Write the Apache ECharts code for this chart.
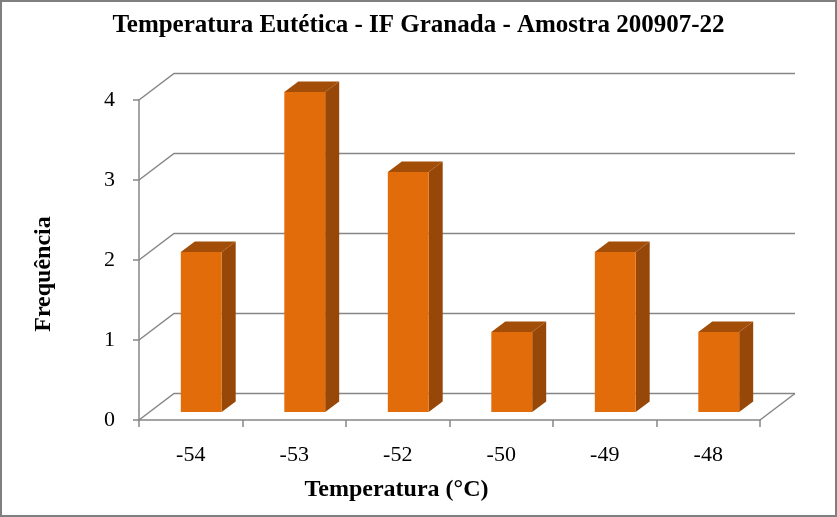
<!DOCTYPE html>
<html>
<head>
<meta charset="utf-8">
<script src="https://cdn.jsdelivr.net/npm/echarts@6/dist/echarts.min.js"></script>
<style>
html,body{margin:0;padding:0;background:#fff;}
#chart{width:837px;height:517px;}
</style>
</head>
<body>
<div id="chart"></div>
<script>
const categories = ['-54', '-53', '-52', '-50', '-49', '-48'];
const frequencies = [2, 4, 3, 1, 2, 1];
const yTicks = [0, 1, 2, 3, 4];

const titleText = 'Temperatura Eutética - IF Granada - Amostra 200907-22';
const xName = 'Temperatura (°C)';
const yName = 'Frequência';

const SERIF = '"Times New Roman", "Liberation Serif", "DejaVu Serif", serif';
const DX = 35, DY = -26.5;      // depth offset of back wall
const F0 = 0.3, F1 = 0.7;       // bar depth range (fraction)
const GRID = '#868686';

const chart = echarts.init(document.getElementById('chart'), null, {renderer: 'canvas'});

const option = {
  backgroundColor: '#ffffff',
  animation: false,
  title: {
    text: titleText,
    left: 'center',
    top: 8,
    textStyle: {fontFamily: SERIF, fontWeight: 'bold', fontSize: 25, color: '#000'}
  },
  graphic: [{
    type: 'rect',
    shape: {x: 1, y: 1, width: 835, height: 515},
    style: {fill: 'none', stroke: '#7f7f7f', lineWidth: 2},
    silent: true, z: 100
  }],
  grid: {left: 139, right: 77, top: 100, bottom: 97, containLabel: false},
  xAxis: {
    type: 'category',
    data: categories,
    boundaryGap: true,
    name: xName,
    nameLocation: 'middle',
    nameGap: 58,
    nameTextStyle: {fontFamily: SERIF, fontWeight: 'bold', fontSize: 24, color: '#000', padding: [0, 106, 0, 0]},
    axisLine: {show: true, lineStyle: {color: GRID, width: 1.5}},
    axisTick: {show: true, length: 7, lineStyle: {color: GRID, width: 1.5}},
    axisLabel: {fontFamily: SERIF, fontSize: 22, color: '#000', margin: 24},
    splitLine: {show: false}
  },
  yAxis: {
    type: 'value',
    min: 0, max: 4, interval: 1,
    name: yName,
    nameLocation: 'middle',
    nameGap: 83,
    nameRotate: 90,
    nameTextStyle: {fontFamily: SERIF, fontWeight: 'bold', fontSize: 24, color: '#000', padding: [0, 28, 0, 0]},
    axisLine: {show: true, lineStyle: {color: GRID, width: 1.5}},
    axisTick: {show: true, length: 6, lineStyle: {color: GRID, width: 1.5}},
    axisLabel: {fontFamily: SERIF, fontSize: 22, color: '#000', margin: 24},
    splitLine: {show: false}
  },
  series: [
    {
      type: 'custom',
      name: 'wall',
      z: 1,
      silent: true,
      data: yTicks.map(v => [0, v]),
      renderItem: function (params, api) {
        const cs = params.coordSys;
        const v = api.value(1);
        const y = api.coord([0, v])[1];
        const x0 = cs.x, x1 = cs.x + cs.width;
        const pts = [[x0, y], [x0 + DX, y + DY], [x1 + DX, y + DY]];
        const children = [{
          type: 'polyline',
          shape: {points: pts},
          style: {stroke: GRID, lineWidth: 1.5, fill: null}
        }];
        if (v === 0) {
          children.push({
            type: 'line',
            shape: {x1: x1, y1: y, x2: x1 + DX, y2: y + DY},
            style: {stroke: GRID, lineWidth: 1.5}
          });
        }
        return {type: 'group', children: children};
      }
    },
    {
      type: 'custom',
      name: 'Frequência',
      z: 5,
      data: frequencies.map((v, i) => [i, v]),
      renderItem: function (params, api) {
        const base = api.coord([api.value(0), 0]);
        const top = api.coord([api.value(0), api.value(1)]);
        const band = api.size([1, 0])[0];
        const w = band * 0.395;
        const fx = base[0] + DX * F0, fy0 = base[1] + DY * F0, fy1 = top[1] + DY * F0;
        const ddx = DX * (F1 - F0), ddy = DY * (F1 - F0);
        const l = fx - w / 2, r = fx + w / 2;
        return {
          type: 'group',
          children: [
            {
              type: 'polygon',
              shape: {points: [[r, fy0], [r + ddx, fy0 + ddy], [r + ddx, fy1 + ddy], [r, fy1]]},
              style: {fill: '#974707', stroke: null}
            },
            {
              type: 'polygon',
              shape: {points: [[l, fy1], [r, fy1], [r + ddx, fy1 + ddy], [l + ddx, fy1 + ddy]]},
              style: {fill: '#A34E08', stroke: null}
            },
            {
              type: 'rect',
              shape: {x: l, y: fy1, width: w, height: fy0 - fy1},
              style: {fill: '#E36C0A', stroke: null}
            }
          ]
        };
      }
    }
  ]
};
chart.setOption(option);
</script>
</body>
</html>
